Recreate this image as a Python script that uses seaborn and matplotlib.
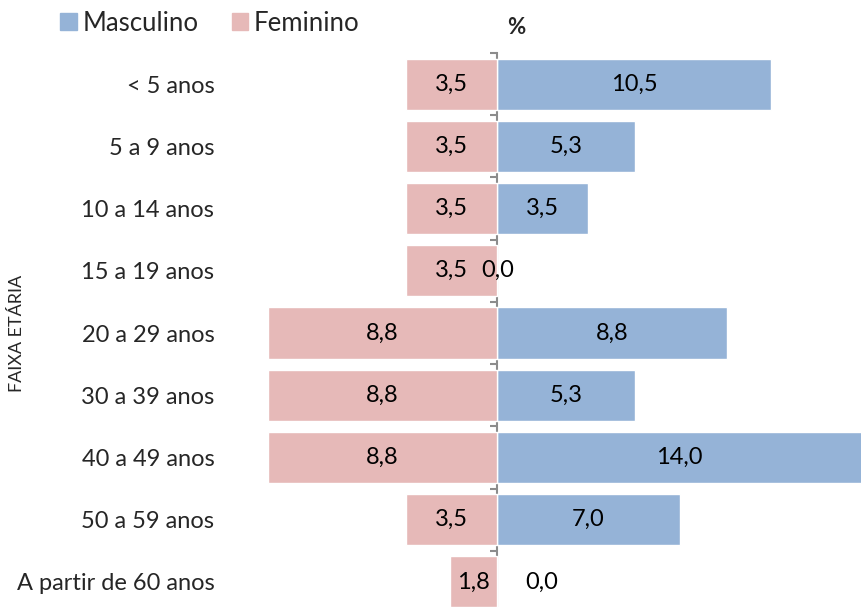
import matplotlib
matplotlib.use("Agg")
import matplotlib.pyplot as plt
import numpy as np
import pandas as pd
import seaborn as sns
from matplotlib.patches import Patch

# faixas etarias e percentuais
faixas = ["< 5 anos", "5 a 9 anos", "10 a 14 anos", "15 a 19 anos", "20 a 29 anos",
          "30 a 39 anos", "40 a 49 anos", "50 a 59 anos", "A partir de 60 anos"]
masculino = [10.5, 5.3, 3.5, 0.0, 8.8, 5.3, 14.0, 7.0, 0.0]
feminino = [3.5, 3.5, 3.5, 3.5, 8.8, 8.8, 8.8, 3.5, 1.8]

cor_masc = "#95B3D7"
cor_fem = "#E6B9B8"

sns.set_theme(style="white")
plt.rcParams["font.family"] = ["Lato", "DejaVu Sans"]

df = pd.DataFrame({"faixa": faixas * 2,
                   "valor": masculino + [-v for v in feminino],
                   "sexo": ["Masculino"] * len(faixas) + ["Feminino"] * len(faixas)})

fig = plt.figure(figsize=(8.62, 6.07), dpi=100)
ax = fig.add_axes([0.255, -0.0099, 0.745, 0.9226])

sns.barplot(data=df, y="faixa", x="valor", hue="sexo", orient="h",
            palette={"Masculino": cor_masc, "Feminino": cor_fem},
            dodge=False, width=0.82, saturation=1, ax=ax, legend=False)

ax.set_xlim(-10.65, 14.0)
ax.set_ylim(len(faixas) - 0.5, -0.5)

# rotulos dos valores, no centro de cada barra
for cont, vals in zip(ax.containers, [masculino, feminino]):
    for i, (barra, v) in enumerate(zip(cont, vals)):
        cx = barra.get_x() + barra.get_width() / 2
        cy = barra.get_y() + barra.get_height() / 2
        if v == 0 and i == len(faixas) - 1:
            cx += 1.72  # no original este 0,0 fica afastado do eixo
        ax.text(cx, cy, f"{v:.1f}".replace(".", ","), ha="center", va="center",
                fontsize=17, color="black")

# eixo central
for s in ax.spines.values():
    s.set_visible(False)
ax.set_xticks([])
ax.set_yticks(range(len(faixas)))
ax.set_yticklabels(faixas, fontsize=17)
ax.tick_params(axis="y", length=0, pad=4)
ax.set_xlabel("")
ax.set_ylabel("FAIXA ETÁRIA", fontsize=13)
ax.yaxis.set_label_coords(-0.303, 0.5)

loc = (0 - ax.get_xlim()[0]) / (ax.get_xlim()[1] - ax.get_xlim()[0])
sec = ax.secondary_yaxis(loc)
sec.set_yticks(np.arange(-0.5, len(faixas) + 0.5, 1.0))
sec.set_yticklabels([])
sec.tick_params(axis="y", direction="out", length=5, width=1.5, color="#8c8c8c")
sec.spines["left"].set_color("#8c8c8c")
sec.spines["left"].set_linewidth(1.5)

# legenda e titulo
handles = [Patch(color=cor_masc, label="Masculino"), Patch(color=cor_fem, label="Feminino")]
fig.legend(handles=handles, loc="center left", bbox_to_anchor=(0.07, 0.962), ncol=2,
           frameon=False, fontsize=18.5, handlelength=0.65, handleheight=0.65,
           handletextpad=0.2, columnspacing=1.3, borderpad=0, borderaxespad=0)
fig.text(516 / 862, 1 - 28 / 607, "%", fontsize=16, fontweight="bold", ha="center", va="center")

fig.savefig("out.png", dpi=100)
